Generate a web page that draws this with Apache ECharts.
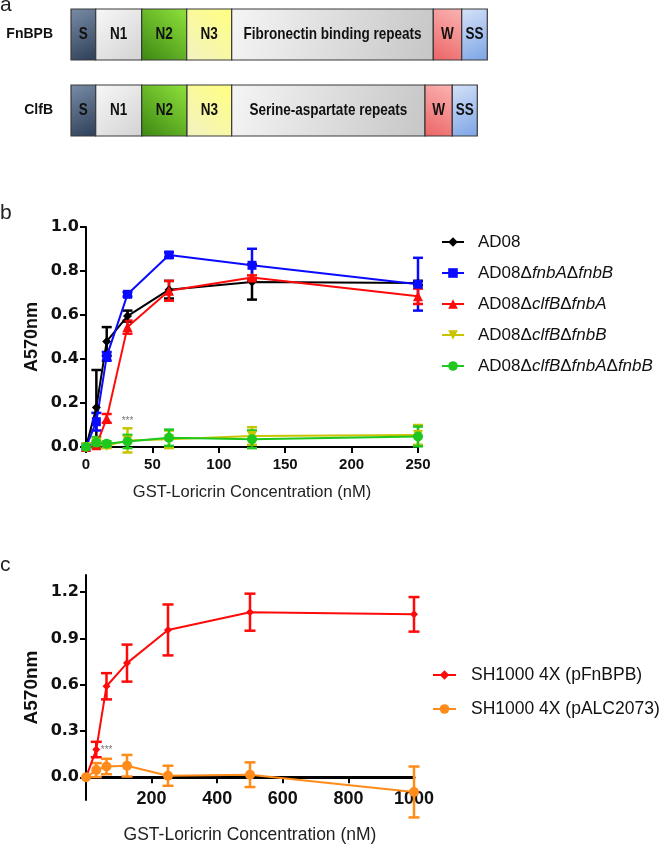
<!DOCTYPE html>
<html><head><meta charset="utf-8">
<script src="https://cdn.jsdelivr.net/npm/echarts@6/dist/echarts.min.js"></script>
<style>html,body{margin:0;padding:0;background:#fff}#c{width:666px;height:848px}</style>
</head><body><div id="c"></div>
<script>
// ---------- Panel a: domain organisation ----------
const proteins = ['FnBPB', 'ClfB'];
const domainNames = ['S', 'N1', 'N2', 'N3', 'Repeats', 'W', 'SS'];
const fnbpbLengths = [24.7, 46, 45, 45, 201.6, 28.4, 25.6];
const clfbLengths = [24.7, 46, 45.3, 44.7, 193.3, 27.3, 25];
const repeatLabels = ['Fibronectin binding repeats', 'Serine-aspartate repeats'];

// ---------- Panel b ----------
const concB = [0, 7.8, 15.6, 31.25, 62.5, 125, 250];
const namesB = ['AD08', 'AD08ΔfnbAΔfnbB', 'AD08ΔclfBΔfnbA', 'AD08ΔclfBΔfnbB', 'AD08ΔclfBΔfnbAΔfnbB'];
const ad08 = [0, 0.18, 0.48, 0.595, 0.715, 0.75, 0.745];
const ad08Err = [0, 0.17, 0.065, 0.025, 0.04, 0.08, 0.01];
const dFnbAB = [0, 0.115, 0.412, 0.694, 0.873, 0.826, 0.74];
const dFnbABErr = [0, 0.04, 0.02, 0.01, 0.012, 0.075, 0.12];
const dClfBFnbA = [0, 0.008, 0.13, 0.545, 0.71, 0.77, 0.685];
const dClfBFnbAErr = [0, 0.01, 0.02, 0.03, 0.045, 0.01, 0.035];
const dClfBFnbB = [0, 0.02, 0.005, 0.03, 0.035, 0.05, 0.055];
const dClfBFnbBErr = [0, 0.01, 0.01, 0.055, 0.04, 0.04, 0.045];
const dTriple = [0, 0.02, 0.015, 0.025, 0.042, 0.035, 0.048];
const dTripleErr = [0, 0.025, 0.01, 0.03, 0.037, 0.04, 0.045];
const starB = [[31.25, 0.117]];

// ---------- Panel c ----------
const concC = [0, 31.25, 62.5, 125, 250, 500, 1000];
const namesC = ['SH1000 4X (pFnBPB)', 'SH1000 4X (pALC2073)'];
const pFnBPB = [0, 0.18, 0.59, 0.74, 0.955, 1.07, 1.056];
const pFnBPBErr = [0, 0.05, 0.085, 0.12, 0.165, 0.12, 0.112];
const pALC = [0, 0.047, 0.07, 0.075, 0.01, 0.017, -0.095];
const pALCErr = [0, 0.045, 0.05, 0.07, 0.065, 0.08, 0.165];
const starC = [[63, 0.175]];
const yTicksC = [0, 0.3, 0.6, 0.9, 1.2];

// ---------- helpers ----------
const G = echarts.graphic.LinearGradient;
const domainFills = [
  new G(0, 0, 1, 1, [{offset: 0, color: '#7a8da8'}, {offset: 1, color: '#2c3e57'}]),
  new G(0, 0, 1, 1, [{offset: 0, color: '#f8f8f8'}, {offset: 1, color: '#d2d2d2'}]),
  new G(1, 0, 0, 1, [{offset: 0, color: '#90e23c'}, {offset: 1, color: '#3b8712'}]),
  new G(1, 0, 0, 1, [{offset: 0, color: '#ffff80'}, {offset: 1, color: '#f2f2c4'}]),
  new G(0, 0, 1, 1, [{offset: 0, color: '#f5f5f5'}, {offset: 1, color: '#c6c6c6'}]),
  new G(1, 0, 0, 1, [{offset: 0, color: '#fbb4b4'}, {offset: 1, color: '#ec6464'}]),
  new G(0, 0, 1, 1, [{offset: 0, color: '#d6e2f8'}, {offset: 1, color: '#7ca4e6'}])
];
const domainData = [];
[fnbpbLengths, clfbLengths].forEach((lens, row) => {
  let s = 0;
  lens.forEach((l, i) => { domainData.push([s, s + l, row, i]); s += l; });
});

function pairs(xs, ys) { return xs.map((x, i) => [x, ys[i]]); }
function triples(xs, ys, es) { return xs.map((x, i) => [x, ys[i], es[i]]); }

function errSeries(name, xs, ys, es, color, ax, capHalf, lw) {
  return {
    type: 'custom', name: name + '_err', xAxisIndex: ax, yAxisIndex: ax,
    data: triples(xs, ys, es), encode: {x: 0, y: 1}, silent: true,
    renderItem: function (params, api) {
      const x = api.value(0), y = api.value(1), e = api.value(2);
      if (!e) return null;
      const t = api.coord([x, y + e]), b = api.coord([x, y - e]);
      const st = {stroke: color, lineWidth: lw};
      return {type: 'group', children: [
        {type: 'line', shape: {x1: t[0], y1: t[1], x2: b[0], y2: b[1]}, style: st},
        {type: 'line', shape: {x1: t[0] - capHalf, y1: t[1], x2: t[0] + capHalf, y2: t[1]}, style: st},
        {type: 'line', shape: {x1: b[0] - capHalf, y1: b[1], x2: b[0] + capHalf, y2: b[1]}, style: st}
      ]};
    }
  };
}
function lineSeries(name, xs, ys, color, ax, symbol, size, rot) {
  return {
    type: 'line', name: name, xAxisIndex: ax, yAxisIndex: ax,
    data: pairs(xs, ys), symbol: symbol, symbolSize: size, symbolRotate: rot || 0,
    showAllSymbol: true, lineStyle: {color: color, width: 2}, itemStyle: {color: color}
  };
}
function legendFmt(name) {
  const parts = name.split('Δ');
  let s = '{p|' + parts[0] + '}';
  for (let i = 1; i < parts.length; i++) s += '{n|Δ}{i|' + parts[i] + '}';
  return s;
}

const bCfg = [
  [namesB[0], ad08, ad08Err, '#000000', 'diamond', 9, 0],
  [namesB[1], dFnbAB, dFnbABErr, '#0a0aff', 'rect', 9, 0],
  [namesB[2], dClfBFnbA, dClfBFnbAErr, '#ff0a0a', 'triangle', 10, 0],
  [namesB[3], dClfBFnbB, dClfBFnbBErr, '#c8c400', 'triangle', 10, 180],
  [namesB[4], dTriple, dTripleErr, '#1ec81e', 'circle', 10, 0]
];
const cCfg = [
  [namesC[0], pFnBPB, pFnBPBErr, '#ff0a0a', 'diamond', 8, 0],
  [namesC[1], pALC, pALCErr, '#ff8c1a', 'circle', 10, 0]
];

const series = [];
series.push({
  type: 'custom', name: 'domains', xAxisIndex: 0, yAxisIndex: 0, silent: true,
  data: domainData, encode: {x: [0, 1], y: 2},
  renderItem: function (params, api) {
    const s = api.value(0), e = api.value(1), row = api.value(2), di = api.value(3);
    const p0 = api.coord([s, row]), p1 = api.coord([e, row]);
    const h = 51;
    const txt = di === 4 ? repeatLabels[row] : domainNames[di];
    return {type: 'group', children: [
      {type: 'rect',
        shape: {x: p0[0], y: p0[1] - h / 2, width: p1[0] - p0[0], height: h},
        style: {fill: domainFills[di], stroke: '#3a3a3a', lineWidth: 1.2}},
      {type: 'text', x: (p0[0] + p1[0]) / 2, y: p0[1], scaleX: 0.82,
        style: {text: txt, x: 0, y: 0, align: 'center', verticalAlign: 'middle',
          fontFamily: 'Liberation Sans', fontWeight: 'bold', fontSize: 16.5, fill: '#111'}}
    ]};
  }
});
bCfg.forEach(c => {
  series.push(errSeries(c[0], concB, c[1], c[2], c[3], 1, 5, 2.5));
  series.push(lineSeries(c[0], concB, c[1], c[3], 1, c[4], c[5], c[6]));
});
cCfg.forEach(c => {
  series.push(errSeries(c[0], concC, c[1], c[2], c[3], 2, 5.5, 2.5));
  series.push(lineSeries(c[0], concC, c[1], c[3], 2, c[4], c[5], c[6]));
});
[[starB, 1], [starC, 2]].forEach(s => {
  series.push({type: 'scatter', xAxisIndex: s[1], yAxisIndex: s[1], data: s[0], symbolSize: 1,
    itemStyle: {color: 'rgba(0,0,0,0)'}, silent: true,
    label: {show: true, position: 'inside', formatter: '***', fontSize: 10, color: '#555'}});
});

const labelFontY = {fontFamily: "'DejaVu Sans',sans-serif", fontWeight: 'bold', fontSize: 16, color: '#111'};
const option = {
  animation: false,
  textStyle: {fontFamily: "'Liberation Sans',Arial,sans-serif"},
  grid: [
    {left: 71, top: -3.5, width: 500, height: 152, outerBoundsMode: 'none', containLabel: false},
    {left: 86, top: 227, width: 332, height: 220, outerBoundsMode: 'none', containLabel: false},
    {left: 86, top: 575, width: 328, height: 225, outerBoundsMode: 'none', containLabel: false}
  ],
  xAxis: [
    {type: 'value', gridIndex: 0, min: 0, max: 500, show: false},
    {type: 'value', gridIndex: 1, min: 0, max: 250, interval: 50,
      axisLine: {lineStyle: {color: '#000', width: 2}},
      axisTick: {length: 6, lineStyle: {color: '#000', width: 2}},
      splitLine: {show: false},
      axisLabel: {fontWeight: 'bold', fontSize: 15, color: '#111', margin: 10},
      name: 'GST-Loricrin Concentration (nM)', nameLocation: 'middle', nameGap: 37,
      nameTextStyle: {fontSize: 16.5, color: '#222'}},
    // zero line with ticks for panel c
    {type: 'value', gridIndex: 2, min: 0, max: 1000, interval: 200,
      axisLine: {onZero: true, lineStyle: {color: '#000', width: 3}},
      axisTick: {length: 6, lineStyle: {color: '#000', width: 2}},
      splitLine: {show: false}, axisLabel: {show: false}},
    // labels / title for panel c
    {type: 'value', gridIndex: 2, min: 0, max: 1000, interval: 200, position: 'bottom', offset: -20,
      axisLine: {show: false, onZero: false}, axisTick: {show: false}, splitLine: {show: false},
      axisLabel: {fontWeight: 'bold', fontSize: 18, color: '#111', margin: 10, showMinLabel: false,
        formatter: v => String(v)},
      name: 'GST-Loricrin Concentration (nM)', nameLocation: 'middle', nameGap: 46,
      nameTextStyle: {fontSize: 17.5, color: '#222'}}
  ],
  yAxis: [
    {type: 'category', gridIndex: 0, data: proteins, inverse: true,
      axisLine: {show: false}, axisTick: {show: false}, splitLine: {show: false},
      axisLabel: {fontWeight: 'bold', fontSize: 14, color: '#111', margin: 18}},
    {type: 'value', gridIndex: 1, min: 0, max: 1, interval: 0.2,
      axisLine: {show: true, lineStyle: {color: '#000', width: 2}},
      axisTick: {show: true, length: 6, lineStyle: {color: '#000', width: 2}},
      splitLine: {show: false},
      axisLabel: Object.assign({margin: 7, formatter: v => v.toFixed(1)}, labelFontY),
      name: 'A570nm', nameLocation: 'middle', nameGap: 45, nameRotate: 90,
      nameTextStyle: {fontWeight: 'bold', fontSize: 18, color: '#111'}},
    {type: 'value', gridIndex: 2, min: -0.147, max: 1.311,
      axisLine: {show: true, onZero: false, lineStyle: {color: '#000', width: 2}},
      axisTick: {show: true, length: 6, lineStyle: {color: '#000', width: 2}, customValues: yTicksC},
      splitLine: {show: false},
      axisLabel: Object.assign({margin: 7, customValues: yTicksC, formatter: v => v.toFixed(1)}, labelFontY),
      name: 'A570nm', nameLocation: 'middle', nameGap: 45, nameRotate: 90,
      nameTextStyle: {fontWeight: 'bold', fontSize: 19, color: '#111'}}
  ],
  legend: [
    {orient: 'vertical', left: 441, top: 232, padding: 0, itemWidth: 22, itemHeight: 12, itemGap: 11,
      selectedMode: false, data: namesB, formatter: legendFmt,
      textStyle: {fontSize: 17, color: '#111', lineHeight: 20, rich: {
        p: {fontSize: 17, color: '#111', lineHeight: 20, padding: [0, 0, 0, 9]},
        n: {fontSize: 17, color: '#111', lineHeight: 20},
        i: {fontSize: 17, color: '#111', lineHeight: 20, fontStyle: 'italic'}}}},
    {orient: 'vertical', left: 432, top: 665, padding: 0, itemWidth: 23, itemHeight: 12, itemGap: 14,
      selectedMode: false, data: namesC, formatter: n => '{p|' + n + '}',
      textStyle: {fontSize: 17.5, color: '#111', lineHeight: 20, rich: {
        p: {fontSize: 17.5, color: '#111', lineHeight: 20, padding: [0, 0, 0, 10]}}}}
  ],
  graphic: [
    {type: 'text', x: 0, y: 5, style: {text: 'a', fontSize: 21, fill: '#222', textVerticalAlign: 'middle', fontFamily: 'Liberation Sans'}},
    {type: 'text', x: 0, y: 213, style: {text: 'b', fontSize: 21, fill: '#222', textVerticalAlign: 'middle', fontFamily: 'Liberation Sans'}},
    {type: 'text', x: 0, y: 565.5, style: {text: 'c', fontSize: 21, fill: '#222', textVerticalAlign: 'middle', fontFamily: 'Liberation Sans'}}
  ],
  series: series
};
const chart = echarts.init(document.getElementById('c'), null, {renderer: 'canvas'});
chart.setOption(option);
</script></body></html>
